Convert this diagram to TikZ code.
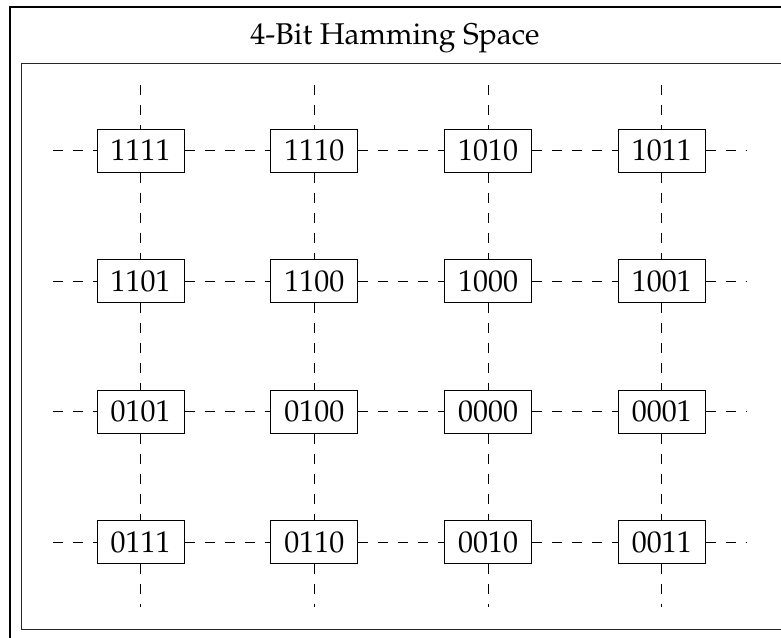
\documentclass[tikz,border=0pt]{standalone}
\usepackage[T1]{fontenc}
\usepackage{mathpazo}
\begin{document}
\begin{tikzpicture}[x=1pt,y=-1pt,
  bitbox/.style={draw,line width=1pt,fill=white,inner sep=0pt,
    minimum width=87pt,minimum height=43pt,
    font=\fontsize{30}{36}\selectfont},
  link/.style={line width=1pt,dash pattern=on 10pt off 10pt},
  outerframe/.style={draw,line width=2.6pt},
  innerframe/.style={draw,line width=1pt,black!85}]
\useasboundingbox (0,0) rectangle (781,637);
\begin{scope}
  \clip (0,0) rectangle (781,637);
  \draw[outerframe] (10,7) rectangle (820,680);
  \draw[innerframe] (21,63) rectangle (810,629);
\end{scope}
\node[anchor=base,font=\fontsize{30}{36}\selectfont] (title) at (395,44) {4-Bit Hamming Space};
% the sixteen 4-bit words, row by row
\foreach \r/\a/\b/\c/\d in {1/1111/1110/1010/1011,2/1101/1100/1000/1001,3/0101/0100/0000/0001,4/0111/0110/0010/0011}{
  \foreach \col/\w in {1/\a,2/\b,3/\c,4/\d}{
    \node[bitbox] (n-\r-\col) at ({140.5+173.8*(\col-1)},{150.5+130.5*(\r-1)}) {\w};
  }
}
% free ends of the grid lines
\foreach \r in {1,...,4}{
  \coordinate (west-\r) at (53,{150.5+130.5*(\r-1)});
  \coordinate (east-\r) at (747,{150.5+130.5*(\r-1)});
}
\foreach \col in {1,...,4}{
  \coordinate (north-\col) at ({140.5+173.8*(\col-1)},85);
  \coordinate (south-\col) at ({140.5+173.8*(\col-1)},607);
}
% horizontal links
\foreach \r in {1,...,4}{
  \draw[link] (west-\r) -- (n-\r-1.west);
  \draw[link] (n-\r-1.east) -- (n-\r-2.west);
  \draw[link] (n-\r-2.east) -- (n-\r-3.west);
  \draw[link] (n-\r-3.east) -- (n-\r-4.west);
  \draw[link] (n-\r-4.east) -- (east-\r);
}
% vertical links
\foreach \col in {1,...,4}{
  \draw[link] (north-\col) -- (n-1-\col.north);
  \draw[link] (n-1-\col.south) -- (n-2-\col.north);
  \draw[link] (n-2-\col.south) -- (n-3-\col.north);
  \draw[link] (n-3-\col.south) -- (n-4-\col.north);
  \draw[link] (n-4-\col.south) -- (south-\col);
}
\end{tikzpicture}
\end{document}
